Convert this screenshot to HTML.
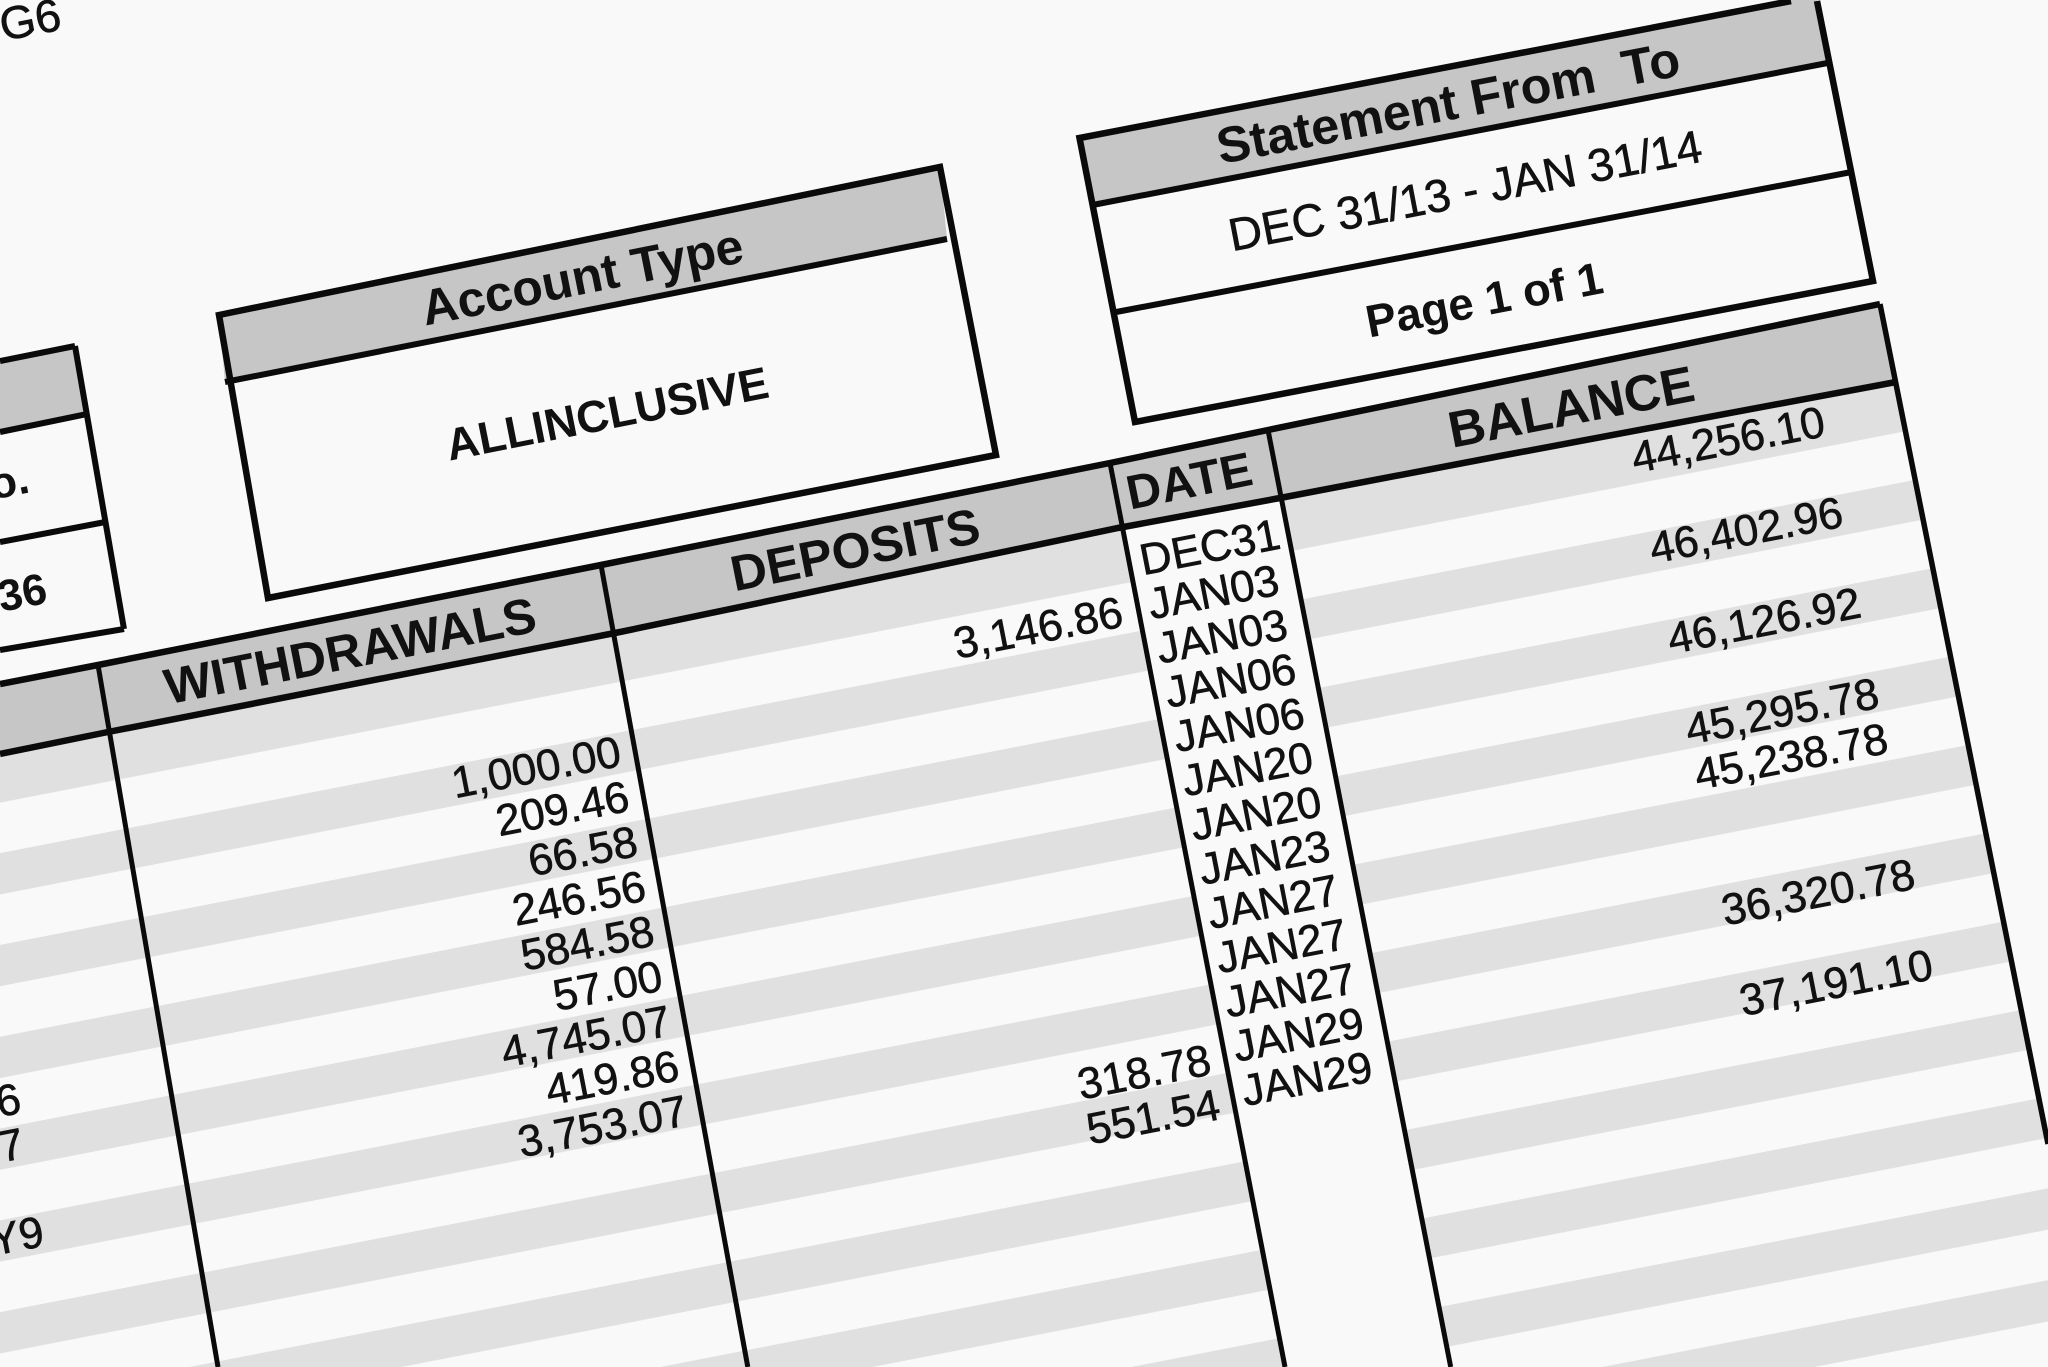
<!DOCTYPE html>
<html>
<head>
<meta charset="utf-8">
<style>
  html,body{margin:0;padding:0;background:#f9f9f9;width:2048px;height:1367px;overflow:hidden;}
  svg{display:block;}
  text{font-family:"Liberation Sans", Arial, sans-serif; fill:#111;}
  .r{stroke:#111;stroke-width:0.6;}
  .b{font-weight:bold;}
</style>
</head>
<body>
<svg width="2048" height="1367" viewBox="0 0 2048 1367" xmlns="http://www.w3.org/2000/svg" overflow="hidden">
  <defs>
    <pattern id="bands" patternUnits="userSpaceOnUse" x="0" y="761.35" width="2048" height="91.8" patternTransform="skewY(-11.03)">
      <rect x="0" y="0" width="2048" height="41.3" fill="#e0e0e0"/>
    </pattern>
  </defs>

  <rect x="0" y="0" width="2048" height="1367" fill="#f9f9f9"/>

  <!-- stippled row bands -->
  <polygon fill="url(#bands)" points="0,756 108,732 620,632 1122,528 1285,1367 0,1367"/>
  <polygon fill="url(#bands)" points="1281,498 1500,456 1896,382 2048,1144 2048,1367 1450.7,1367"/>
  <g fill="#e0e0e0">
    <polygon points="0,756 108,732 620,632 1122,528 1125,543.2 0,762"/>
    <polygon points="1281,498 1500,456 1896,382 1899,391.8 1284,511.6"/>
  </g>

  <!-- header fills -->
  <g fill="#c6c6c6">
    <polygon points="0,684 98,665 601,565 1110,463 1268,430 1880,304 1896,382 1500,456 1280,498 1118,528 620,632 108,732 0,754"/>
    <polygon points="219,315 940,167 947,239 225,382"/>
    <polygon points="1079.5,138 1791,0 1817,0 1830.2,62.5 1092.6,205"/>
    <polygon points="0,361 75,346 86.8,414 0,432"/>
  </g>

  <!-- lines -->
  <g stroke="#0a0a0a" fill="none" stroke-linejoin="miter">
    <polyline stroke-width="6.5" points="0,684 98,665 601,565 1110,463 1268,430 1880,304"/>
    <polyline stroke-width="6.5" points="0,754 108,732 620,632 1118,528 1280,498 1500,456 1896,382"/>
    <line stroke-width="5" x1="98" y1="665" x2="218" y2="1367"/>
    <line stroke-width="5" x1="601" y1="565" x2="747.8" y2="1367"/>
    <line stroke-width="5" x1="1110" y1="463" x2="1285" y2="1367"/>
    <line stroke-width="5" x1="1268" y1="430" x2="1450.7" y2="1367"/>
    <line stroke-width="5.5" x1="1880" y1="304" x2="2048" y2="1144"/>

    <!-- Account Type box -->
    <polygon stroke-width="6.5" points="219,315 940,167 996,455 268,598"/>
    <line stroke-width="6" x1="225" y1="382" x2="947" y2="239"/>

    <!-- Statement box -->
    <path stroke-width="6.5" d="M1791,1 L1079.5,138 L1135,422 L1873,281 L1817,1"/>
    <line stroke-width="6" x1="1092.6" y1="205" x2="1830.2" y2="62.5"/>
    <line stroke-width="6" x1="1113.5" y1="312.5" x2="1851.6" y2="172"/>

    <!-- Left box -->
    <line stroke-width="6" x1="0" y1="361" x2="75" y2="346"/>
    <line stroke-width="6" x1="75" y1="346" x2="124" y2="629"/>
    <line stroke-width="6" x1="0" y1="432" x2="86.8" y2="414"/>
    <line stroke-width="6" x1="0" y1="542" x2="105.4" y2="522"/>
    <line stroke-width="6" x1="0" y1="650" x2="124" y2="629"/>
  </g>

  <!-- top-left fragments -->
  <text class="r" transform="translate(30,19) rotate(-11)" y="16.5" font-size="46" text-anchor="middle">G6</text>
  <text class="b" transform="translate(29,481) rotate(-11)" y="11.4" font-size="44" text-anchor="end">Account No.</text>
  <text class="b" transform="translate(46,587) rotate(-11)" y="15.8" font-size="44" text-anchor="end">36</text>

  <!-- Account type box -->
  <text class="b" transform="translate(582,276) rotate(-11.3)" y="18" font-size="50" text-anchor="middle">Account Type</text>
  <text class="b" transform="translate(607,413) rotate(-11.2)" y="16.2" font-size="45" text-anchor="middle">ALLINCLUSIVE</text>

  <!-- Statement box -->
  <text class="b" transform="translate(1448,102) rotate(-10.9)" y="18" font-size="50.5" text-anchor="middle" style="white-space:pre" xml:space="preserve">Statement From  To</text>
  <text class="r" transform="translate(1465,190) rotate(-10.8)" y="16.5" font-size="46" text-anchor="middle">DEC 31/13 - JAN 31/14</text>
  <text class="b" transform="translate(1484,299) rotate(-10.8)" y="16.4" font-size="45.5" text-anchor="middle">Page 1 of 1</text>

  <!-- Table headers -->
  <text class="b" transform="translate(350,650) rotate(-11.2)" y="18" font-size="50" text-anchor="middle">WITHDRAWALS</text>
  <text class="b" transform="translate(855,549) rotate(-11.3)" y="18" font-size="50" text-anchor="middle">DEPOSITS</text>
  <text class="b" transform="translate(1189,480) rotate(-11.5)" y="17.3" font-size="48" text-anchor="middle">DATE</text>
  <text class="b" transform="translate(1571,406) rotate(-11)" y="18.4" font-size="51" text-anchor="middle">BALANCE</text>

  <!-- Date column -->
  <g font-size="44">
    <text class="r" transform="translate(1140,559.7) rotate(-11)" y="15.8">DEC31</text>
    <text class="r" transform="translate(1148.5,603.9) rotate(-11)" y="15.8">JAN03</text>
    <text class="r" transform="translate(1157,648.2) rotate(-11)" y="15.8">JAN03</text>
    <text class="r" transform="translate(1165.5,692.4) rotate(-11)" y="15.8">JAN06</text>
    <text class="r" transform="translate(1174,736.7) rotate(-11)" y="15.8">JAN06</text>
    <text class="r" transform="translate(1182.5,780.9) rotate(-11)" y="15.8">JAN20</text>
    <text class="r" transform="translate(1191,825.2) rotate(-11)" y="15.8">JAN20</text>
    <text class="r" transform="translate(1199.5,869.4) rotate(-11)" y="15.8">JAN23</text>
    <text class="r" transform="translate(1208,913.6) rotate(-11)" y="15.8">JAN27</text>
    <text class="r" transform="translate(1216.5,957.9) rotate(-11)" y="15.8">JAN27</text>
    <text class="r" transform="translate(1225,1002.1) rotate(-11)" y="15.8">JAN27</text>
    <text class="r" transform="translate(1233.5,1046.4) rotate(-11)" y="15.8">JAN29</text>
    <text class="r" transform="translate(1242,1090.6) rotate(-11)" y="15.8">JAN29</text>
  </g>

  <!-- Withdrawals -->
  <g font-size="44" text-anchor="end">
    <text class="r" transform="translate(620,750.1) rotate(-11)" y="15.8">1,000.00</text>
    <text class="r" transform="translate(628.3,795) rotate(-11)" y="15.8">209.46</text>
    <text class="r" transform="translate(636.6,839.9) rotate(-11)" y="15.8">66.58</text>
    <text class="r" transform="translate(644.9,884.7) rotate(-11)" y="15.8">246.56</text>
    <text class="r" transform="translate(653.2,929.6) rotate(-11)" y="15.8">584.58</text>
    <text class="r" transform="translate(661.5,974.5) rotate(-11)" y="15.8">57.00</text>
    <text class="r" transform="translate(669.8,1019.4) rotate(-11)" y="15.8">4,745.07</text>
    <text class="r" transform="translate(678.1,1064.3) rotate(-11)" y="15.8">419.86</text>
    <text class="r" transform="translate(686.4,1109.2) rotate(-11)" y="15.8">3,753.07</text>
  </g>

  <!-- Deposits -->
  <g font-size="44" text-anchor="end">
    <text class="r" transform="translate(1122,610.7) rotate(-11)" y="15.8">3,146.86</text>
    <text class="r" transform="translate(1210,1058.5) rotate(-11)" y="15.8">318.78</text>
    <text class="r" transform="translate(1219,1103.3) rotate(-11)" y="15.8">551.54</text>
  </g>

  <!-- Balance -->
  <g font-size="44" text-anchor="end">
    <text class="r" transform="translate(1824,420.3) rotate(-11)" y="15.8">44,256.10</text>
    <text class="r" transform="translate(1842,510.8) rotate(-11)" y="15.8">46,402.96</text>
    <text class="r" transform="translate(1860,601.3) rotate(-11)" y="15.8">46,126.92</text>
    <text class="r" transform="translate(1878,691.8) rotate(-11)" y="15.8">45,295.78</text>
    <text class="r" transform="translate(1887,737) rotate(-11)" y="15.8">45,238.78</text>
    <text class="r" transform="translate(1914,872.8) rotate(-11)" y="15.8">36,320.78</text>
    <text class="r" transform="translate(1932,963.3) rotate(-11)" y="15.8">37,191.10</text>
  </g>

  <!-- Description column fragments -->
  <g font-size="44" text-anchor="end">
    <text class="r" transform="translate(20,1097) rotate(-11)" y="15.8">6</text>
    <text class="r" transform="translate(23,1142) rotate(-11)" y="15.8">7</text>
    <text class="r" transform="translate(43,1230) rotate(-11)" y="15.8">Y9</text>
  </g>
</svg>
</body>
</html>
